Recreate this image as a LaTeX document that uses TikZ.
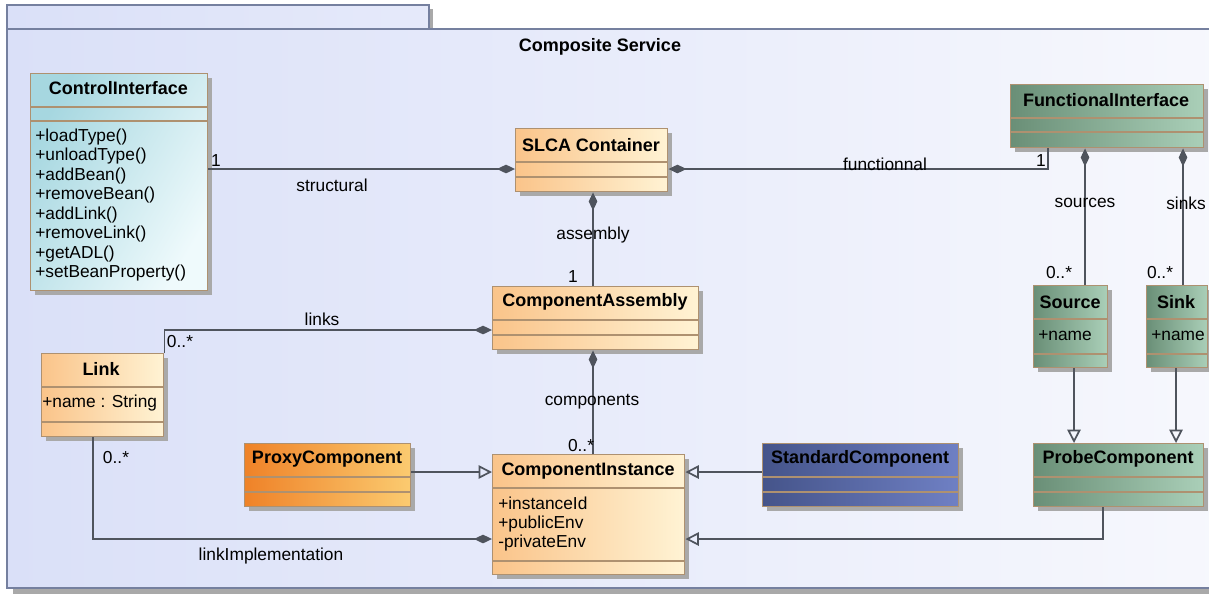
\documentclass[tikz,border=0pt]{standalone}
\usepackage{fontspec}
\setmainfont{Liberation Sans}
\usetikzlibrary{arrows.meta,shadows}

\definecolor{frameL}{HTML}{DAE0F8}
\definecolor{frameR}{HTML}{F7F8FD}
\definecolor{frameedge}{HTML}{75809F}
\definecolor{shadowgray}{HTML}{A9A9A9}
\definecolor{boxedge}{HTML}{AE9170}
\definecolor{wireclr}{HTML}{4F545D}
\definecolor{orangeL}{HTML}{FAC48A}
\definecolor{orangeR}{HTML}{FFF3D4}
\definecolor{proxyL}{HTML}{EF8228}
\definecolor{proxyR}{HTML}{FBCB70}
\definecolor{stdL}{HTML}{45548A}
\definecolor{stdR}{HTML}{6F80C4}
\definecolor{greenL}{HTML}{6A8F77}
\definecolor{greenR}{HTML}{AACFB8}
\definecolor{cyanL}{HTML}{A6D7E0}
\definecolor{cyanR}{HTML}{EFFAFC}

\tikzset{
  umlbox/.style={draw=boxedge, line width=1.1pt, anchor=north west, inner sep=0pt,
    drop shadow={shadow xshift=3.5pt, shadow yshift=-3.5pt, fill=shadowgray, opacity=1}},
  orangebox/.style={left color=orangeL, right color=orangeR},
  proxybox/.style={left color=proxyL, right color=proxyR},
  stdbox/.style={left color=stdL, right color=stdR},
  greenbox/.style={left color=greenL, right color=greenR},
  cyanbox/.style={left color=cyanL, right color=cyanR, shading angle=60},
  divider/.style={draw=boxedge, line width=1.1pt},
  title/.style={font=\fontsize{13.5}{16}\selectfont\bfseries, inner sep=0pt},
  clsname/.style={font=\fontsize{13.5}{16}\selectfont\bfseries, inner sep=0pt},
  member/.style={font=\fontsize{13}{14.6}\selectfont, align=left, anchor=west, inner sep=0pt},
  tag/.style={font=\fontsize{13}{15}\selectfont, inner sep=0pt},
  wire/.style={draw=wireclr, line width=1.3pt},
  comp/.style={-{Diamond[length=13.5pt,width=6.5pt]}},
  gen/.style={-{Triangle[open,length=10pt,width=10pt]}}
}

\begin{document}
\begin{tikzpicture}[x=0.75pt,y=0.75pt,yscale=-1,xscale=1]
\useasboundingbox (0,0) rectangle (1209,594);
\fill[white] (0,0) rectangle (1209,594);

%Shape: Frame shadow
\fill[shadowgray] (13,588) rectangle (1230,594);
\fill[shadowgray] (429,9) rectangle (433,29);
%Shape: Frame tab
\draw[frameedge, line width=1pt, left color=frameL, right color=frameL!60!frameR] (7,5) rectangle (429,29);
%Shape: Frame
\draw[frameedge, line width=1pt, left color=frameL, right color=frameR] (7,29) rectangle (1230,588);

%Shape: Class [ControlInterface]
\node[umlbox, cyanbox, minimum width=132.75pt, minimum height=162.75pt] (ctrl) at (30,73) {};
\draw[divider] (ctrl.west |- 0,107) -- (ctrl.east |- 0,107);
\draw[divider] (ctrl.west |- 0,121) -- (ctrl.east |- 0,121);
%Shape: Class [SLCA Container]
\node[umlbox, orangebox, minimum width=114pt, minimum height=47.25pt] (slca) at (515,128) {};
\draw[divider] (slca.west |- 0,162) -- (slca.east |- 0,162);
\draw[divider] (slca.west |- 0,177) -- (slca.east |- 0,177);
%Shape: Class [FunctionalInterface]
\node[umlbox, greenbox, minimum width=144.75pt, minimum height=47.25pt] (funcif) at (1010,84) {};
\draw[divider] (funcif.west |- 0,118) -- (funcif.east |- 0,118);
\draw[divider] (funcif.west |- 0,132) -- (funcif.east |- 0,132);
%Shape: Class [ComponentAssembly]
\node[umlbox, orangebox, minimum width=154.5pt, minimum height=47.25pt] (assem) at (492,286) {};
\draw[divider] (assem.west |- 0,320) -- (assem.east |- 0,320);
\draw[divider] (assem.west |- 0,335) -- (assem.east |- 0,335);
%Shape: Class [Link]
\node[umlbox, orangebox, minimum width=91.5pt, minimum height=62.25pt] (link) at (41,353) {};
\draw[divider] (link.west |- 0,387) -- (link.east |- 0,387);
\draw[divider] (link.west |- 0,422) -- (link.east |- 0,422);
%Shape: Class [ComponentInstance]
\node[umlbox, orangebox, minimum width=144pt, minimum height=90pt] (inst) at (492,454) {};
\draw[divider] (inst.west |- 0,488) -- (inst.east |- 0,488);
\draw[divider] (inst.west |- 0,561) -- (inst.east |- 0,561);
%Shape: Class [ProxyComponent]
\node[umlbox, proxybox, minimum width=124.5pt, minimum height=47.25pt] (proxy) at (244,443) {};
\draw[divider] (proxy.west |- 0,477) -- (proxy.east |- 0,477);
\draw[divider] (proxy.west |- 0,492) -- (proxy.east |- 0,492);
%Shape: Class [StandardComponent]
\node[umlbox, stdbox, minimum width=147pt, minimum height=47.25pt] (std) at (762,443) {};
\draw[divider] (std.west |- 0,477) -- (std.east |- 0,477);
\draw[divider] (std.west |- 0,492) -- (std.east |- 0,492);
%Shape: Class [Source]
\node[umlbox, greenbox, minimum width=55.5pt, minimum height=61.5pt] (src) at (1033,285) {};
\draw[divider] (src.west |- 0,319) -- (src.east |- 0,319);
\draw[divider] (src.west |- 0,354) -- (src.east |- 0,354);
%Shape: Class [Sink]
\node[umlbox, greenbox, minimum width=45.75pt, minimum height=61.5pt] (sink) at (1146,285) {};
\draw[divider] (sink.west |- 0,319) -- (sink.east |- 0,319);
\draw[divider] (sink.west |- 0,354) -- (sink.east |- 0,354);
%Shape: Class [ProbeComponent]
\node[umlbox, greenbox, minimum width=127.5pt, minimum height=47.25pt] (probe) at (1033,443) {};
\draw[divider] (probe.west |- 0,477) -- (probe.east |- 0,477);
\draw[divider] (probe.west |- 0,492) -- (probe.east |- 0,492);

%Straight Lines [structural]
\draw[wire, comp] (ctrl.east |- 0,169) -- (slca.west |- 0,169);
%Straight Lines [functionnal]
\draw[wire, comp] (funcif.south -| 1048,0) |- (slca.east |- 0,169);
%Straight Lines [assembly]
\draw[wire, comp] (assem.north -| 593,0) -- (slca.south -| 593,0);
%Straight Lines [links]
\draw[wire, comp] (link.north east) |- (assem.west |- 0,330);
%Straight Lines [components]
\draw[wire, comp] (inst.north -| 593,0) -- (assem.south -| 593,0);
%Straight Lines [sources]
\draw[wire, comp] (src.north -| 1085,0) -- (funcif.south -| 1085,0);
%Straight Lines [sinks]
\draw[wire, comp] (sink.north -| 1183,0) -- (funcif.south -| 1183,0);
%Straight Lines [linkImplementation]
\draw[wire, comp] (link.south -| 93,0) |- (inst.west |- 0,539);
%Generalization
\draw[wire, gen] (src.south -| 1074,0) -- (probe.north -| 1074,0);
\draw[wire, gen] (sink.south -| 1176,0) -- (probe.north -| 1176,0);
\draw[wire, gen] (proxy.east |- 0,472) -- (inst.west |- 0,472);
\draw[wire, gen] (std.west |- 0,472) -- (inst.east |- 0,472);
\draw[wire, gen] (probe.south -| 1103,0) |- (inst.east |- 0,539);

% Text Node
\node[title] (frametitle) at (600,47) {Composite Service};
% Text Node
\node[clsname] (ctrlname) at (118.5,88) {ControlInterface};
\node[member] (ctrlops) at (35,205) {+loadType()\\+unloadType()\\+addBean()\\+removeBean()\\+addLink()\\+removeLink()\\+getADL()\\+setBeanProperty()};
% Text Node
\node[clsname] (slcaname) at (591,145) {SLCA Container};
\node[clsname] (funcifname) at (1106,100) {FunctionalInterface};
\node[clsname] (assemname) at (595,302) {ComponentAssembly};
\node[clsname] (linkname) at (101,369) {Link};
\node[member] (linkattr) at (42,403) {+name : String};
\node[clsname] (instname) at (588,471) {ComponentInstance};
\node[member] (instattr) at (498,524) {+instanceId\\+publicEnv\\-privateEnv};
\node[clsname] (proxyname) at (327,459) {ProxyComponent};
\node[clsname] (stdname) at (860,459) {StandardComponent};
\node[clsname] (srcname) at (1070,302) {Source};
\node[member] (srcattr) at (1038,336) {+name};
\node[clsname] (sinkname) at (1176,302) {Sink};
\node[member] (sinkattr) at (1151,336) {+name};
\node[clsname] (probename) at (1118,459) {ProbeComponent};
% Text Node
\node[tag] (structmult) at (216,161) {1};
\node[tag] (structlbl) at (332,185) {structural};
\node[tag] (funclbl) at (885,164) {functionnal};
\node[tag] (funcmult) at (1041,161) {1};
\node[tag] (asmlbl) at (593,235) {assembly};
\node[tag] (asmmult) at (573,277) {1};
\node[tag] (linkslbl) at (322,319) {links};
\node[tag] (linksmult) at (180,342) {0..*};
\node[tag] (complbl) at (592,402) {components};
\node[tag] (compmult) at (581,446) {0..*};
\node[tag] (srclbl) at (1085,203) {sources};
\node[tag] (srcmult) at (1059,273) {0..*};
\node[tag] (sinklbl) at (1186,203) {sinks};
\node[tag] (sinkmult) at (1160,273) {0..*};
\node[tag] (implmult) at (116,458) {0..*};
\node[tag] (impllbl) at (271,556) {linkImplementation};
\end{tikzpicture}
\end{document}
